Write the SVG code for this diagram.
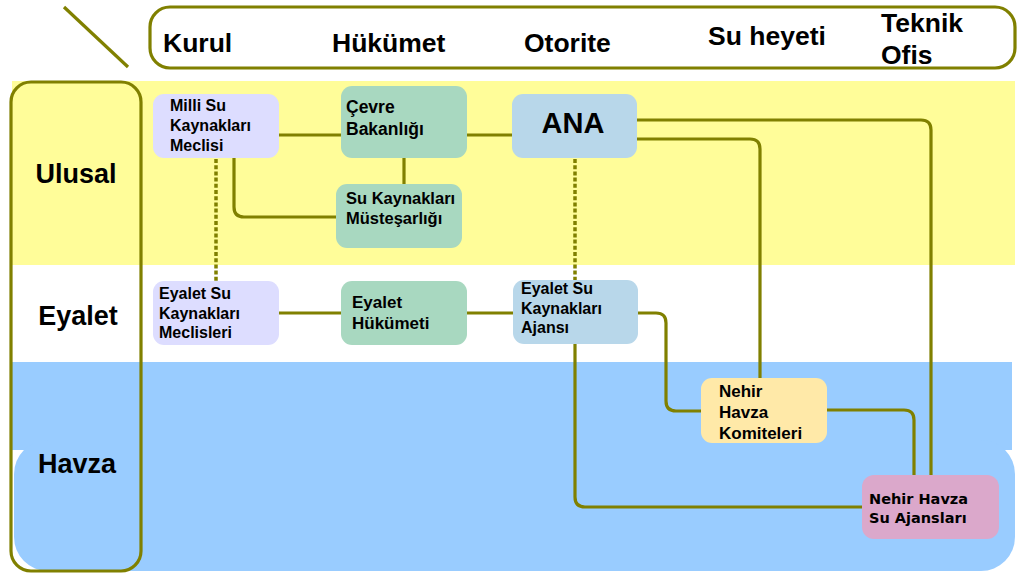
<svg xmlns="http://www.w3.org/2000/svg" width="1026" height="574" viewBox="0 0 1026 574">
<style>
.frame{fill:none;stroke:#808000;stroke-width:3.2}
.hdr{font-family:"Liberation Sans",Arial,sans-serif;font-weight:bold;font-size:26.5px;fill:#000}
.lane{font-family:"Liberation Sans",Arial,sans-serif;font-weight:bold;font-size:27px;fill:#000;text-anchor:middle}
.n{font-family:"Liberation Sans",Arial,sans-serif;font-weight:bold;fill:#000}
.c{fill:none;stroke:#808000;stroke-width:3.2}
.d{fill:none;stroke:#808000;stroke-width:3.5;stroke-dasharray:4 2.2}
.lav{fill:#DDDDFF}
.grn{fill:#A8D8C0}
.blu{fill:#B8D7EA}
.yel{fill:#FFE9A8}
.pnk{fill:#DBA8CB}
</style>
<rect width="1026" height="574" fill="#fff"/>
<g id="bands">
<rect x="12" y="81" width="1003" height="184" fill="#FFFD99"/>
<rect x="12" y="362" width="1000" height="88" fill="#99CCFF"/>
<rect x="14" y="440" width="1001" height="131" rx="34" fill="#99CCFF"/>
</g>
<g id="header">
<rect class="frame" x="150" y="7" width="865" height="61" rx="20" fill="#fff"/>
<line class="frame" x1="64" y1="7" x2="128" y2="67"/>
<text class="hdr" x="163" y="52">Kurul</text>
<text class="hdr" x="332" y="52">Hükümet</text>
<text class="hdr" x="524" y="52">Otorite</text>
<text class="hdr" x="708" y="45">Su heyeti</text>
<text class="hdr" x="881" y="32">Teknik</text>
<text class="hdr" x="881" y="64">Ofis</text>
</g>
<g id="lanes">
<rect class="frame" x="11" y="82" width="130" height="489" rx="20"/>
<text class="lane" x="76" y="183">Ulusal</text>
<text class="lane" x="78" y="325">Eyalet</text>
<text class="lane" x="77" y="473">Havza</text>
</g>
<g id="connectors">
<line class="c" x1="279" y1="135" x2="341" y2="135"/>
<line class="c" x1="467" y1="135" x2="512" y2="135"/>
<line class="c" x1="404" y1="158" x2="404" y2="184"/>
<path class="c" d="M234,158 V207 Q234,217 244,217 H336"/>
<path class="c" d="M637,120 H921 Q931,120 931,130 V475"/>
<path class="c" d="M637,139 H750 Q760,139 760,149 V378"/>
<line class="c" x1="279" y1="313" x2="341" y2="313"/>
<line class="c" x1="467" y1="313" x2="513" y2="313"/>
<path class="c" d="M638,313 H656 Q666,313 666,323 V401 Q666,411 676,411 H701"/>
<path class="c" d="M826,410 H904 Q914,410 914,420 V475"/>
<path class="c" d="M575,344 V497 Q575,507 585,507 H862"/>
<line class="d" x1="216" y1="159" x2="216" y2="281"/>
<line class="d" x1="575" y1="159" x2="575" y2="280"/>
</g>
<g id="milli">
<rect class="lav" x="153" y="94" width="126" height="64" rx="11"/>
<text class="n" font-size="16" x="170"><tspan x="170" y="111">Milli Su</tspan><tspan x="170" y="131">Kaynakları</tspan><tspan x="170" y="151">Meclisi</tspan></text>
</g>
<g id="cevre">
<rect class="grn" x="341" y="86" width="126" height="72" rx="11"/>
<text class="n" font-size="17.5"><tspan x="346" y="113">Çevre</tspan><tspan x="346" y="135">Bakanlığı</tspan></text>
</g>
<g id="mustesarlik">
<rect class="grn" x="336" y="184" width="126" height="64" rx="11"/>
<text class="n" font-size="16.5"><tspan x="346" y="204">Su Kaynakları</tspan><tspan x="346" y="224">Müsteşarlığı</tspan></text>
</g>
<g id="ana">
<rect class="blu" x="512" y="94" width="125" height="64" rx="11"/>
<text class="n" font-size="29" x="573" y="133" text-anchor="middle">ANA</text>
</g>
<g id="eyalet-meclis">
<rect class="lav" x="153" y="281" width="126" height="64" rx="11"/>
<text class="n" font-size="16"><tspan x="159" y="299">Eyalet Su</tspan><tspan x="159" y="319">Kaynakları</tspan><tspan x="159" y="338">Meclisleri</tspan></text>
</g>
<g id="eyalet-hukumet">
<rect class="grn" x="341" y="281" width="126" height="64" rx="11"/>
<text class="n" font-size="17"><tspan x="352" y="308">Eyalet</tspan><tspan x="352" y="329">Hükümeti</tspan></text>
</g>
<g id="eyalet-ajans">
<rect class="blu" x="513" y="280" width="125" height="64" rx="11"/>
<text class="n" font-size="16"><tspan x="521" y="294">Eyalet Su</tspan><tspan x="521" y="314">Kaynakları</tspan><tspan x="521" y="333">Ajansı</tspan></text>
</g>
<g id="komiteler">
<rect class="yel" x="701" y="378" width="126" height="65" rx="11"/>
<text class="n" font-size="17"><tspan x="719" y="397">Nehir</tspan><tspan x="719" y="418">Havza</tspan><tspan x="719" y="439">Komiteleri</tspan></text>
</g>
<g id="su-ajanslari">
<rect class="pnk" x="862" y="475" width="137" height="64" rx="12"/>
<text font-family="'DejaVu Sans',Verdana,sans-serif" font-weight="bold" font-size="14.5" fill="#000"><tspan x="869" y="504">Nehir Havza</tspan><tspan x="869" y="523">Su Ajansları</tspan></text>
</g>
</svg>
